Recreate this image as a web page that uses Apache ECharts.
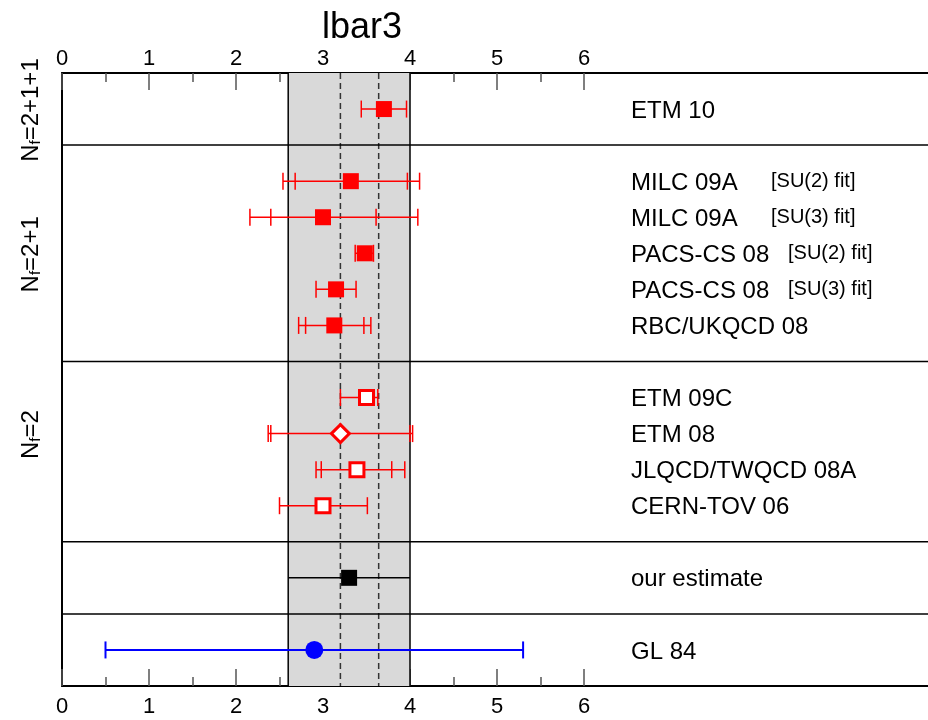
<!DOCTYPE html>
<html><head><meta charset="utf-8">
<script src="https://cdn.jsdelivr.net/npm/echarts@6/dist/echarts.min.js"></script>
<style>html,body{margin:0;padding:0;background:#fff}#c{width:928px;height:720px}</style>
</head><body><div id="c"></div>
<script>
// ---- data ----
const titleText = 'lbar3';
const labels = ['ETM 10', 'MILC 09A', 'MILC 09A', 'PACS-CS 08', 'PACS-CS 08', 'RBC/UKQCD 08',
  'ETM 09C', 'ETM 08', 'JLQCD/TWQCD 08A', 'CERN-TOV 06', 'our estimate', 'GL 84'];
const notes = ['', '[SU(2) fit]', '[SU(3) fit]', '[SU(2) fit]', '[SU(3) fit]', '', '', '', '', '', '', ''];
const rows = [1, 3, 4, 5, 6, 7, 9, 10, 11, 12, 14, 16];
const values = [3.70, 3.32, 3.00, 3.48, 3.15, 3.13, 3.50, 3.20, 3.39, 3.00, 3.30, 2.90];
const statLo = [3.44, 2.68, 2.40, 3.37, 2.92, 2.80, 3.20, 2.40, 2.98, 2.50, 2.60, 0.50];
const statHi = [3.96, 3.97, 3.61, 3.58, 3.38, 3.47, 3.63, 4.00, 3.79, 3.51, 4.00, 5.30];
const totLo  = [3.44, 2.54, 2.16, 3.37, 2.92, 2.72, 3.20, 2.37, 2.92, 2.50, 2.60, 0.50];
const totHi  = [3.96, 4.11, 4.09, 3.58, 3.38, 3.55, 3.63, 4.03, 3.94, 3.51, 4.00, 5.30];
const markers = ['fill-square', 'fill-square', 'fill-square', 'fill-square', 'fill-square', 'fill-square',
  'open-square', 'open-diamond', 'open-square', 'open-square', 'black-square', 'blue-circle'];
const groupNames = [['N', 'f', '=2+1+1'], ['N', 'f', '=2+1'], ['N', 'f', '=2']];
const groupRows = [1, 5, 10];
const separatorRows = [2, 8, 13, 15];
const bandRange = [2.6, 4.0];
const dashedLines = [3.20, 3.64];
const majorTicks = [0, 1, 2, 3, 4, 5, 6];
const minorTicks = [0.5, 1.5, 2.5, 3.5, 4.5, 5.5];
const xRange = [0, 9.954];
const yRange = [0, 17];

// ---- chart ----
const FONT = '"Liberation Sans", Arial, sans-serif';
const chart = echarts.init(document.getElementById('c'), null, {renderer: 'canvas'});

function xAxisDef(pos, major) {
  return {
    type: 'value', gridIndex: 0, position: pos, min: xRange[0], max: xRange[1],
    axisLine: {show: major, onZero: false, lineStyle: {color: '#000', width: 2}},
    axisTick: {show: true, inside: true, length: major ? 17 : 9,
      customValues: major ? majorTicks : minorTicks, lineStyle: {color: '#555', width: 1.5}},
    axisLabel: {show: major, customValues: majorTicks, fontSize: 22, color: '#000', fontFamily: FONT,
      margin: pos === 'top' ? 3 : 10},
    splitLine: {show: false}
  };
}

const ptData = rows.map((r, i) => [values[i], r]);

function renderPoint(params, api) {
  const i = params.dataIndex;
  const kind = markers[i];
  const y = api.coord([0, rows[i]])[1];
  const px = v => api.coord([v, rows[i]])[0];
  const color = kind === 'blue-circle' ? '#0000ff' : (kind === 'black-square' ? '#000000' : '#ff0000');
  const lw = kind === 'blue-circle' ? 2 : 1.5;
  const ch = [];
  ch.push({type: 'line', shape: {x1: px(totLo[i]), y1: y, x2: px(totHi[i]), y2: y},
    style: {stroke: color, lineWidth: lw}});
  if (kind !== 'black-square') {
    const caps = [];
    [statLo[i], statHi[i], totLo[i], totHi[i]].forEach(v => { if (caps.indexOf(v) < 0) caps.push(v); });
    caps.forEach(v => {
      const x = px(v);
      ch.push({type: 'line', shape: {x1: x, y1: y - 8.5, x2: x, y2: y + 8.5},
        style: {stroke: color, lineWidth: lw}});
    });
  }
  const cx = px(values[i]);
  if (kind === 'fill-square' || kind === 'black-square') {
    ch.push({type: 'rect', shape: {x: cx - 8, y: y - 8, width: 16, height: 16}, style: {fill: color}});
  } else if (kind === 'open-square') {
    ch.push({type: 'rect', shape: {x: cx - 7, y: y - 7, width: 14, height: 14},
      style: {fill: '#fff', stroke: color, lineWidth: 3}});
  } else if (kind === 'open-diamond') {
    ch.push({type: 'polygon', shape: {points: [[cx, y - 9], [cx + 9, y], [cx, y + 9], [cx - 9, y]]},
      style: {fill: '#fff', stroke: color, lineWidth: 3}});
  } else if (kind === 'blue-circle') {
    ch.push({type: 'circle', shape: {cx: cx, cy: y, r: 9}, style: {fill: color}});
  }
  ch.push({type: 'text', x: 631, y: y + 2, style: {text: labels[i], fill: '#000', font: '24px ' + FONT,
    textAlign: 'left', textVerticalAlign: 'middle'}});
  if (notes[i]) {
    const nx = labels[i].indexOf('PACS') === 0 ? 788 : 771;
    ch.push({type: 'text', x: nx, y: y, style: {text: notes[i], fill: '#000', font: '20px ' + FONT,
      textAlign: 'left', textVerticalAlign: 'middle'}});
  }
  return {type: 'group', children: ch};
}

function renderBand(params, api) {
  const p0 = api.coord([bandRange[0], yRange[0]]);
  const p1 = api.coord([bandRange[1], yRange[1]]);
  return {type: 'group', children: [
    {type: 'rect', shape: {x: p0[0], y: p0[1], width: p1[0] - p0[0], height: p1[1] - p0[1]},
      style: {fill: '#d9d9d9'}},
    {type: 'line', shape: {x1: p0[0], y1: p0[1], x2: p0[0], y2: p1[1]}, style: {stroke: '#000', lineWidth: 1.5}},
    {type: 'line', shape: {x1: p1[0], y1: p0[1], x2: p1[0], y2: p1[1]}, style: {stroke: '#000', lineWidth: 1.5}}
  ]};
}

function renderDashed(params, api) {
  const v = dashedLines[params.dataIndex];
  const a = api.coord([v, yRange[0]]);
  const b = api.coord([v, yRange[1]]);
  return {type: 'line', shape: {x1: a[0], y1: a[1], x2: b[0], y2: b[1]},
    style: {stroke: '#333', lineWidth: 1.5, lineDash: [6, 4]}};
}

function renderSep(params, api) {
  const r = separatorRows[params.dataIndex];
  const a = api.coord([xRange[0], r]);
  const b = api.coord([xRange[1], r]);
  return {type: 'line', shape: {x1: a[0], y1: a[1], x2: b[0], y2: b[1]},
    style: {stroke: '#000', lineWidth: 1.5}};
}

function renderGroup(params, api) {
  const g = groupNames[params.dataIndex];
  const y = api.coord([0, groupRows[params.dataIndex]])[1];
  return {type: 'text', x: 29, y: y + 1, rotation: Math.PI / 2,
    style: {text: '{n|' + g[0] + '}{s|' + g[1] + '}{n|' + g[2] + '}', fill: '#000',
      textAlign: 'center', textVerticalAlign: 'middle',
      rich: {
        n: {fontSize: 24, fontFamily: FONT, lineHeight: 28, verticalAlign: 'bottom', fill: '#000'},
        s: {fontSize: 15, fontFamily: FONT, lineHeight: 14, verticalAlign: 'bottom', fill: '#000'}
      }}};
}

chart.setOption({
  animation: false,
  backgroundColor: '#fff',
  title: {text: titleText, left: 357, top: 5, textAlign: 'center',
    textStyle: {fontSize: 36, fontWeight: 'normal', color: '#000', fontFamily: FONT}},
  grid: {left: 62, top: 73, right: 0, bottom: 34, containLabel: false},
  xAxis: [xAxisDef('top', true), xAxisDef('top', false), xAxisDef('bottom', true), xAxisDef('bottom', false)],
  yAxis: {type: 'value', min: yRange[0], max: yRange[1], inverse: true,
    axisLine: {show: true, lineStyle: {color: '#000', width: 2}}, axisTick: {show: false},
    axisLabel: {show: false}, splitLine: {show: false}},
  series: [
    {type: 'custom', renderItem: renderBand, data: [bandRange], z: 1, silent: true, clip: false},
    {type: 'custom', renderItem: renderDashed, data: dashedLines.map(v => [v, 0]), z: 2, silent: true},
    {type: 'custom', renderItem: renderSep, data: separatorRows.map(r => [0, r]), z: 3, silent: true},
    {type: 'custom', renderItem: renderPoint, data: ptData, z: 4, silent: true, clip: false,
      encode: {x: 0, y: 1}},
    {type: 'custom', renderItem: renderGroup, data: groupRows.map(r => [0, r]), z: 5, silent: true, clip: false}
  ]
});
</script></body></html>
